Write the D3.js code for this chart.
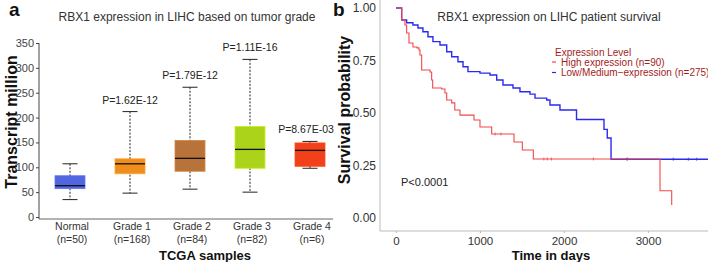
<!DOCTYPE html>
<html>
<head>
<meta charset="utf-8">
<script src="https://cdn.jsdelivr.net/npm/d3@7"></script>
<style>
body { margin: 0; background: #fff; }
svg text { font-family: "Liberation Sans", Arial, sans-serif; }
</style>
</head>
<body>
<div id="chart-area"></div>
<script>
// panel a - box plot data
var groups = ["Normal", "Grade 1", "Grade 2", "Grade 3", "Grade 4"];
var groupN = ["(n=50)", "(n=168)", "(n=84)", "(n=82)", "(n=6)"];
var boxMin = [35, 48, 56, 50, 98];
var boxQ1 = [57, 87, 92, 98, 102];
var boxMedian = [63, 107, 118, 136, 134];
var boxQ3 = [83, 117, 154, 182, 149];
var boxMax = [107, 212, 261, 317, 152];
var pLabels = ["", "P=1.62E-12", "P=1.79E-12", "P=1.11E-16", "P=8.67E-03"];
var yTicksA = [0, 50, 100, 150, 200, 250, 300, 350];

// panel b - survival curves
var highTime = [0, 68, 107, 127, 155, 202, 250, 274, 286, 306, 405, 425, 437, 544, 583, 604, 663, 700, 762, 929, 1000, 1139, 1405, 1504, 1635, 3143, 3282];
var highSurv = [1, 0.943, 0.919, 0.881, 0.833, 0.814, 0.810, 0.800, 0.776, 0.705, 0.695, 0.657, 0.619, 0.614, 0.595, 0.562, 0.548, 0.514, 0.490, 0.467, 0.433, 0.400, 0.362, 0.324, 0.281, 0.130, 0.062];
var lowTime = [0, 68, 127, 202, 262, 321, 381, 440, 524, 604, 663, 738, 798, 857, 1000, 1119, 1199, 1274, 1393, 1476, 1595, 1655, 1794, 1833, 1952, 2149, 2476, 2515, 2560, 3720];
var lowSurv = [1, 0.943, 0.930, 0.919, 0.905, 0.887, 0.863, 0.840, 0.824, 0.792, 0.768, 0.744, 0.720, 0.697, 0.690, 0.681, 0.657, 0.633, 0.619, 0.601, 0.590, 0.571, 0.562, 0.538, 0.514, 0.469, 0.422, 0.381, 0.280, 0.280];
var highCensor = [1180, 1250, 1760, 1800, 1850, 2350, 2760];
var lowCensor = [2750, 3300, 3480, 3580];
var xTicksB = [0, 1000, 2000, 3000];
var yTicksB = [0, 0.25, 0.5, 0.75, 1];

var width = 708;
var height = 262;

var svg = d3.select("#chart-area").append("svg")
    .attr("width", width)
    .attr("height", height);

// ---------- panel a ----------
var x = d3.scaleBand()
    .domain(groups)
    .range([40, 340]);

var y = d3.scaleLinear()
    .domain([0, 350])
    .range([217, 43]);

var colors = d3.scaleOrdinal()
    .domain(groups)
    .range(["#5166de", "#f08d1f", "#b8733a", "#abd319", "#f2411a"]);

var ga = svg.append("g");

ga.append("text")
    .attr("x", 9).attr("y", 16)
    .attr("font-size", "19px").attr("font-weight", "bold")
    .style("fill", "#111")
    .text("a");

ga.append("text")
    .attr("x", 187).attr("y", 21)
    .attr("font-size", "12px")
    .attr("text-anchor", "middle")
    .style("fill", "#333")
    .text("RBX1 expression in LIHC based on tumor grade");

var leftAxis = d3.axisLeft(y).tickValues(yTicksA).tickSize(3).tickPadding(2);
var la = ga.append("g")
    .attr("transform", "translate(39, 0)")
    .call(leftAxis);
la.select(".domain").attr("d", "M0,43V219").attr("stroke", "#444");
la.selectAll(".tick line").attr("stroke", "#444");
la.selectAll("text").attr("font-size", "11px").style("fill", "#444");

ga.append("line")
    .attr("x1", 39).attr("x2", 333)
    .attr("y1", 219).attr("y2", 219)
    .attr("stroke", "#666");

// Y label
ga.append("text")
    .attr("x", -122).attr("y", 17)
    .attr("transform", "rotate(-90)")
    .attr("font-size", "16px").attr("font-weight", "bold")
    .attr("text-anchor", "middle")
    .style("fill", "#111")
    .text("Transcript million");

// category labels
groups.forEach(function(d, i) {
    var cx = x(d) + x.bandwidth() / 2;
    ga.append("text")
        .attr("x", cx + 2).attr("y", 230)
        .attr("font-size", "10.5px").attr("text-anchor", "middle")
        .style("fill", "#333")
        .text(d);
    ga.append("text")
        .attr("x", cx + 2).attr("y", 243)
        .attr("font-size", "10.5px").attr("text-anchor", "middle")
        .style("fill", "#333")
        .text(groupN[i]);
});

ga.append("text")
    .attr("x", 205).attr("y", 260)
    .attr("font-size", "13px").attr("font-weight", "bold")
    .attr("text-anchor", "middle")
    .style("fill", "#111")
    .text("TCGA samples");

var boxW = 30;
var capW = 15;
var boxes = ga.selectAll(".box")
    .data(groups)
    .enter().append("g")
    .attr("class", "box")
    .attr("transform", (d) => { return "translate(" + (x(d) + x.bandwidth() / 2) + ",0)"; });

boxes.append("line")
    .attr("x1", 0).attr("x2", 0)
    .attr("y1", (d, i) => { return y(boxMax[i]); })
    .attr("y2", (d, i) => { return y(boxMin[i]); })
    .attr("stroke", "#222")
    .attr("stroke-dasharray", "2,1.5");

boxes.append("line")
    .attr("x1", -capW / 2).attr("x2", capW / 2)
    .attr("y1", (d, i) => { return y(boxMax[i]); })
    .attr("y2", (d, i) => { return y(boxMax[i]); })
    .attr("stroke", "#222");

boxes.append("line")
    .attr("x1", -capW / 2).attr("x2", capW / 2)
    .attr("y1", (d, i) => { return y(boxMin[i]); })
    .attr("y2", (d, i) => { return y(boxMin[i]); })
    .attr("stroke", "#222");

boxes.append("rect")
    .attr("x", -boxW / 2)
    .attr("width", boxW)
    .attr("y", (d, i) => { return y(boxQ3[i]); })
    .attr("height", (d, i) => { return y(boxQ1[i]) - y(boxQ3[i]); })
    .attr("fill", (d) => { return colors(d); })
    .attr("stroke", (d) => { return d3.color(colors(d)).brighter(0.4); })
    .attr("stroke-width", 0.8);

boxes.append("line")
    .attr("x1", -boxW / 2).attr("x2", boxW / 2)
    .attr("y1", (d, i) => { return y(boxMedian[i]); })
    .attr("y2", (d, i) => { return y(boxMedian[i]); })
    .attr("stroke", "#111")
    .attr("stroke-width", 1.3);

boxes.append("text")
    .attr("x", (d, i) => { return i == 4 ? -4 : 0; })
    .attr("y", (d, i) => { return y(boxMax[i]) - 8; })
    .attr("font-size", "10.5px")
    .attr("text-anchor", "middle")
    .style("fill", "#222")
    .text((d, i) => { return pLabels[i]; });

// ---------- panel b ----------
var xb = d3.scaleLinear()
    .domain([-190, 3714])
    .range([380, 708]);

var yb = d3.scaleLinear()
    .domain([0, 1])
    .range([218, 8]);

var gb = svg.append("g");

gb.append("text")
    .attr("x", 333).attr("y", 16)
    .attr("font-size", "19px").attr("font-weight", "bold")
    .style("fill", "#111")
    .text("b");

gb.append("text")
    .attr("x", 549).attr("y", 21)
    .attr("font-size", "12px")
    .attr("text-anchor", "middle")
    .style("fill", "#333")
    .text("RBX1 expression on LIHC patient survival");

var yAxisB = d3.axisLeft(yb).tickValues(yTicksB).tickSize(0).tickPadding(4)
    .tickFormat(d3.format(".2f"));
var yab = gb.append("g")
    .attr("transform", "translate(380, 0)")
    .call(yAxisB);
yab.select(".domain").attr("d", "M0,0V231").attr("stroke", "#bbb");
yab.selectAll("text").attr("font-size", "12px").style("fill", "#333");

var xAxisB = d3.axisBottom(xb).tickValues(xTicksB).tickSize(2).tickPadding(4)
    .tickFormat(d3.format("d"));
var xab = gb.append("g")
    .attr("transform", "translate(0, 231)")
    .call(xAxisB);
xab.select(".domain").attr("d", "M380,0H708").attr("stroke", "#bbb");
xab.selectAll(".tick line").attr("stroke", "#bbb");
xab.selectAll("text").attr("font-size", "11.5px").style("fill", "#333");

gb.append("text")
    .attr("x", -110).attr("y", 350)
    .attr("transform", "rotate(-90)")
    .attr("font-size", "16px").attr("font-weight", "bold")
    .attr("text-anchor", "middle")
    .style("fill", "#111")
    .text("Survival probability");

gb.append("text")
    .attr("x", 551).attr("y", 260)
    .attr("font-size", "13px").attr("font-weight", "bold")
    .attr("text-anchor", "middle")
    .style("fill", "#111")
    .text("Time in days");

svg.append("clipPath").attr("id", "clipb")
    .append("rect").attr("x", 381).attr("y", 0).attr("width", 327).attr("height", 230);

var line = d3.line()
    .x((d) => { return xb(d[0]); })
    .y((d) => { return yb(d[1]); })
    .curve(d3.curveStepAfter);

var curves = gb.append("g").attr("clip-path", "url(#clipb)");

curves.append("path")
    .datum(lowTime.map((t, i) => { return [t, lowSurv[i]]; }))
    .attr("d", line)
    .attr("fill", "none")
    .attr("stroke", "#2a2af0")
    .attr("stroke-width", 1.4);

curves.append("path")
    .datum(highTime.map((t, i) => { return [t, highSurv[i]]; }))
    .attr("d", line)
    .attr("fill", "none")
    .attr("stroke", "#f04848")
    .attr("stroke-width", 1.1);

// censor marks
function survAt(times, surv, t) {
    var s = surv[0];
    for (var i = 0; i < times.length; i++) { if (times[i] <= t) s = surv[i]; }
    return s;
}
curves.selectAll(".cl").data(lowCensor).enter().append("line")
    .attr("x1", (d) => { return xb(d); }).attr("x2", (d) => { return xb(d); })
    .attr("y1", (d) => { return yb(survAt(lowTime, lowSurv, d)) - 1.5; })
    .attr("y2", (d) => { return yb(survAt(lowTime, lowSurv, d)) + 1.5; })
    .attr("stroke", "#2a2af0").attr("stroke-width", 0.8);
curves.selectAll(".ch").data(highCensor).enter().append("line")
    .attr("x1", (d) => { return xb(d); }).attr("x2", (d) => { return xb(d); })
    .attr("y1", (d) => { return yb(survAt(highTime, highSurv, d)) - 1.5; })
    .attr("y2", (d) => { return yb(survAt(highTime, highSurv, d)) + 1.5; })
    .attr("stroke", "#f04848").attr("stroke-width", 0.8);

// legend
var legend = gb.append("g").attr("transform", "translate(551, 0)");
legend.append("text")
    .attr("x", 4).attr("y", 55.5)
    .attr("font-size", "10px")
    .style("fill", "#a31c1c")
    .text("Expression Level");
var legendItems = [
    { label: "High expression (n=90)", color: "#f04848" },
    { label: "Low/Medium\u2212expression (n=275)", color: "#2a2af0" }
];
legendItems.forEach(function(d, i) {
    legend.append("line")
        .attr("x1", 1).attr("x2", 5)
        .attr("y1", 62 + i * 10.5).attr("y2", 62 + i * 10.5)
        .attr("stroke", d.color).attr("stroke-width", 1.2);
    legend.append("text")
        .attr("x", 10).attr("y", 65.5 + i * 10.5)
        .attr("font-size", "10px")
        .style("fill", "#a31c1c")
        .text(d.label);
});

gb.append("text")
    .attr("x", 401).attr("y", 186)
    .attr("font-size", "11px")
    .style("fill", "#222")
    .text("P<0.0001");
</script>
</body>
</html>
